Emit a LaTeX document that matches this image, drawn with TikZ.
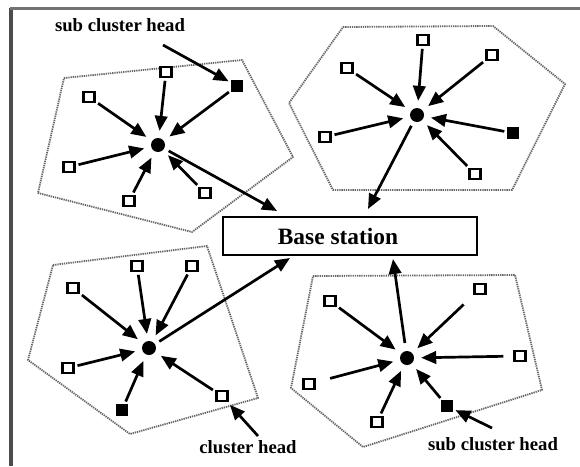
\documentclass[tikz,border=0pt]{standalone}
\usepackage{fontspec}
\setmainfont{Liberation Serif}
\usetikzlibrary{arrows.meta}
\begin{document}
\begin{tikzpicture}[x=1pt,y=-1pt,
  region/.style={draw=black!60, line width=1.8pt, dash pattern=on 1.3pt off 0.9pt, line join=round},
  sensor/.style={draw=black, line width=2.2pt, fill=white, minimum width=11pt, minimum height=9.5pt, inner sep=0pt},
  subhead/.style={draw=black, fill=black, minimum size=11pt, inner sep=0pt},
  head/.style={circle, fill=black, minimum size=14pt, inner sep=0pt},
  arr/.style={line width=2.7pt, -{Triangle[length=15pt,width=12.5pt]}, shorten <=3pt, shorten >=7pt},
  lbl/.style={font=\bfseries\fontsize{18.7}{20}\selectfont, inner sep=0pt},
  ]
\fill[white] (0,0) rectangle (580,466);
\useasboundingbox (0,0) rectangle (580,466);
% frame
\draw[black!70, line width=3.5pt] (11,8) -- (11,466);
\draw[black!55, line width=3pt] (10,8) -- (580,8);

% regions
\draw[region] (64,78) -- (242,60) -- (293,157) -- (192,232) -- (38,193) -- cycle;
\draw[region] (343,27) -- (493,26) -- (565,84) -- (512,190) -- (333,190) -- (289,103) -- cycle;
\draw[region] (53,265) -- (207,246) -- (258,398) -- (130,434) -- (28,360) -- cycle;
\draw[region] (313,276) -- (515,275) -- (542,390) -- (363,447) -- (291,388) -- cycle;

% base station
\node[draw=black, line width=2.6pt, minimum width=254pt, minimum height=38pt, inner sep=0pt,
      font=\bfseries\fontsize{23.4}{25}\selectfont] (bs) at (350,236) {Base station\hspace*{24pt}};

% cluster 1
\node[head] (c1) at (158,145) {};
\node[sensor] (a1) at (166,72) {};
\node[sensor] (a2) at (89,97) {};
\node[sensor] (a3) at (69,167) {};
\node[sensor] (a4) at (129,201) {};
\node[sensor] (a5) at (205,193) {};
\node[subhead] (f1) at (237,86) {};
\foreach \n in {a1,a2,a3,a4,a5,f1} \draw[arr] (\n) -- (c1);

% cluster 2
\node[head] (c2) at (417,115) {};
\node[sensor] (b1) at (423,40) {};
\node[sensor] (b2) at (492,55) {};
\node[sensor] (b3) at (347,68) {};
\node[sensor] (b4) at (325,137) {};
\node[sensor] (b5) at (475,174) {};
\node[subhead] (f2) at (513,133) {};
\foreach \n in {b1,b2,b3,b4,b5,f2} \draw[arr] (\n) -- (c2);

% cluster 3
\node[head] (c3) at (149,348) {};
\node[sensor] (d1) at (73,288) {};
\node[sensor] (d2) at (137,266) {};
\node[sensor] (d3) at (192,266) {};
\node[sensor] (d4) at (68,368) {};
\node[sensor] (d5) at (222,396) {};
\node[subhead] (f3) at (122,410) {};
\foreach \n in {d1,d2,d3,d4,d5,f3} \draw[arr] (\n) -- (c3);

% cluster 4
\node[head] (c4) at (407,358) {};
\node[sensor] (e1) at (330,301) {};
\node[sensor] (e2) at (480,289) {};
\node[sensor] (e3) at (520,356) {};
\node[sensor] (e4) at (309,384) {};
\node[sensor] (e5) at (377,422) {};
\node[subhead] (f4) at (447,406) {};
\foreach \n in {e1,e5,f4} \draw[arr] (\n) -- (c4);
\draw[arr, shorten <=14pt] (e2) -- (c4);
\draw[arr, shorten <=10pt] (e3) -- (c4);
\draw[arr, shorten <=15pt] (e4) -- (c4);

% links to base station
\coordinate (t1) at (277,211);
\coordinate (t2) at (368,209);
\coordinate (t3) at (290,258);
\coordinate (t4) at (393,259);
\draw[arr, shorten <=5pt, shorten >=0pt] (c1) -- (t1);
\draw[arr, shorten <=5pt, shorten >=0pt] (c2) -- (t2);
\draw[arr, shorten <=5pt, shorten >=0pt] (c3) -- (t3);
\draw[arr, shorten <=8pt, shorten >=0pt] (c4) -- (t4);

% labels
\node[lbl] (l1) at (120,25) {sub cluster head};
\node[lbl] (l2) at (248,447) {cluster head};
\node[lbl] (l3) at (493,444) {sub cluster head};
\coordinate (s1) at (163,45);
\coordinate (s2) at (258,436);
\coordinate (s3) at (492,428);
\draw[arr, shorten <=0pt, shorten >=3pt] (s1) -- (f1);
\draw[arr, shorten <=0pt, shorten >=4pt] (s2) -- (d5);
\draw[arr, shorten <=0pt, shorten >=3pt] (s3) -- (f4);
\end{tikzpicture}
\end{document}
